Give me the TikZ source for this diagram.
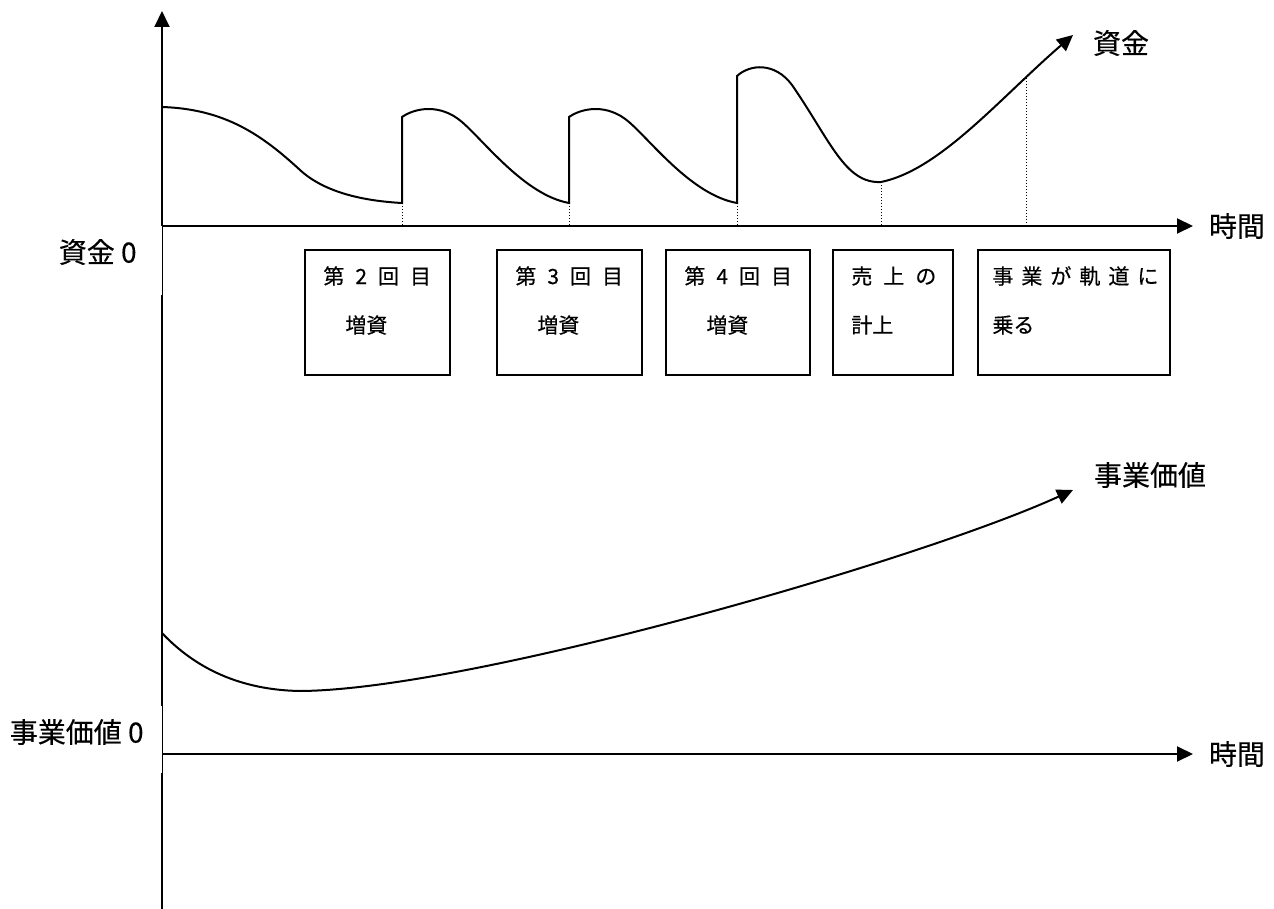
\documentclass[tikz,border=0pt]{standalone}
\usepackage{fontspec}
\setmainfont[FakeBold=0.4]{Noto Sans CJK JP}
\usetikzlibrary{arrows.meta}

\begin{document}
\begin{tikzpicture}[x=0.5pt,y=-0.5pt,
  axis/.style={line width=1pt},
  thinaxis/.style={line width=0.5pt},
  curve/.style={line width=1pt},
  guide/.style={line width=0.5pt,dash pattern=on 0.6pt off 0.9pt},
  frame/.style={line width=0.75pt},
  arr/.style={-{Triangle[length=8pt,width=7.5pt]}},
  axislabel/.style={inner sep=0pt,font=\fontsize{14}{16}\selectfont},
  boxtext/.style={inner sep=0pt,anchor=west,font=\fontsize{10.5}{12}\selectfont}]
  \useasboundingbox (0,0) rectangle (1274,909);
  % vertical axis
  \draw[axis,arr] (162,226) -- (162,11);
  \draw[thinaxis] (162,226) -- (162,295);
  \draw[axis] (162,295) -- (162,706);
  \draw[thinaxis] (162,706) -- (162,773);
  \draw[axis] (162,773) -- (162,909);
  % time axes
  \draw[axis,arr] (162,226) -- (1193,226);
  \draw[axis,arr] (162,754) -- (1193,754);
  \node[axislabel] (time1) at (1237,226) {時間};
  \node[axislabel] (time2) at (1237,754) {時間};
  \node[axislabel,anchor=east] (zero1) at (137,252) {資金 0};
  \node[axislabel,anchor=east] (zero2) at (144,732) {事業価値 0};
  % cash curve with capital increases
  \draw[curve,arr] (162,107) .. controls (225,109) and (262,135) .. (300,170)
    .. controls (325,193) and (365,201) .. (402,203) -- (402,117)
    .. controls (415,108) and (440,103) .. (462,122)
    .. controls (485,142) and (525,195) .. (569,203) -- (569,117)
    .. controls (582,108) and (607,103) .. (629,122)
    .. controls (652,142) and (692,195) .. (737,203) -- (737,76)
    .. controls (750,64) and (775,62) .. (792,85)
    .. controls (830,140) and (845,184) .. (881,182)
    .. controls (940,170) and (1000,98) .. (1073,35);
  \node[axislabel] (cash) at (1121,43) {資金};
  % dotted guides
  \foreach \x/\y in {402/203,569/203,737/203,881/182,1026/78}
    \draw[guide] (\x,\y) -- (\x,226);
  % event boxes
  \draw[frame] (305,250) rectangle (450,375);
  \draw[frame] (497,250) rectangle (642,375);
  \draw[frame] (666,250) rectangle (810,375);
  \draw[frame] (833,250) rectangle (953,375);
  \draw[frame] (978,250) rectangle (1170,375);
  \node[boxtext] (r2) at (323,276) {第\hspace{5.5pt}2\hspace{5.5pt}回\hspace{5.5pt}目};
  \node[boxtext] (z2) at (345,325) {増資};
  \node[boxtext] (r3) at (515,276) {第\hspace{5.5pt}3\hspace{5.5pt}回\hspace{5.5pt}目};
  \node[boxtext] (z3) at (537,325) {増資};
  \node[boxtext] (r4) at (684,276) {第\hspace{5.5pt}4\hspace{5.5pt}回\hspace{5.5pt}目};
  \node[boxtext] (z4) at (706,325) {増資};
  \node[boxtext] (s1) at (851,276) {売\hspace{5.5pt}上\hspace{5.5pt}の};
  \node[boxtext] (s2) at (851,325) {計上};
  \node[boxtext] (k1) at (992,276) {事\hspace{4pt}業\hspace{4pt}が\hspace{4pt}軌\hspace{4pt}道\hspace{4pt}に};
  \node[boxtext] (k2) at (992,325) {乗る};
  % business value curve
  \draw[curve,arr] (162,633) .. controls (195,668) and (240,690) .. (300,691)
    .. controls (470,690) and (920,560) .. (1073,490);
  \node[axislabel] (value) at (1150,475) {事業価値};
\end{tikzpicture}
\end{document}
